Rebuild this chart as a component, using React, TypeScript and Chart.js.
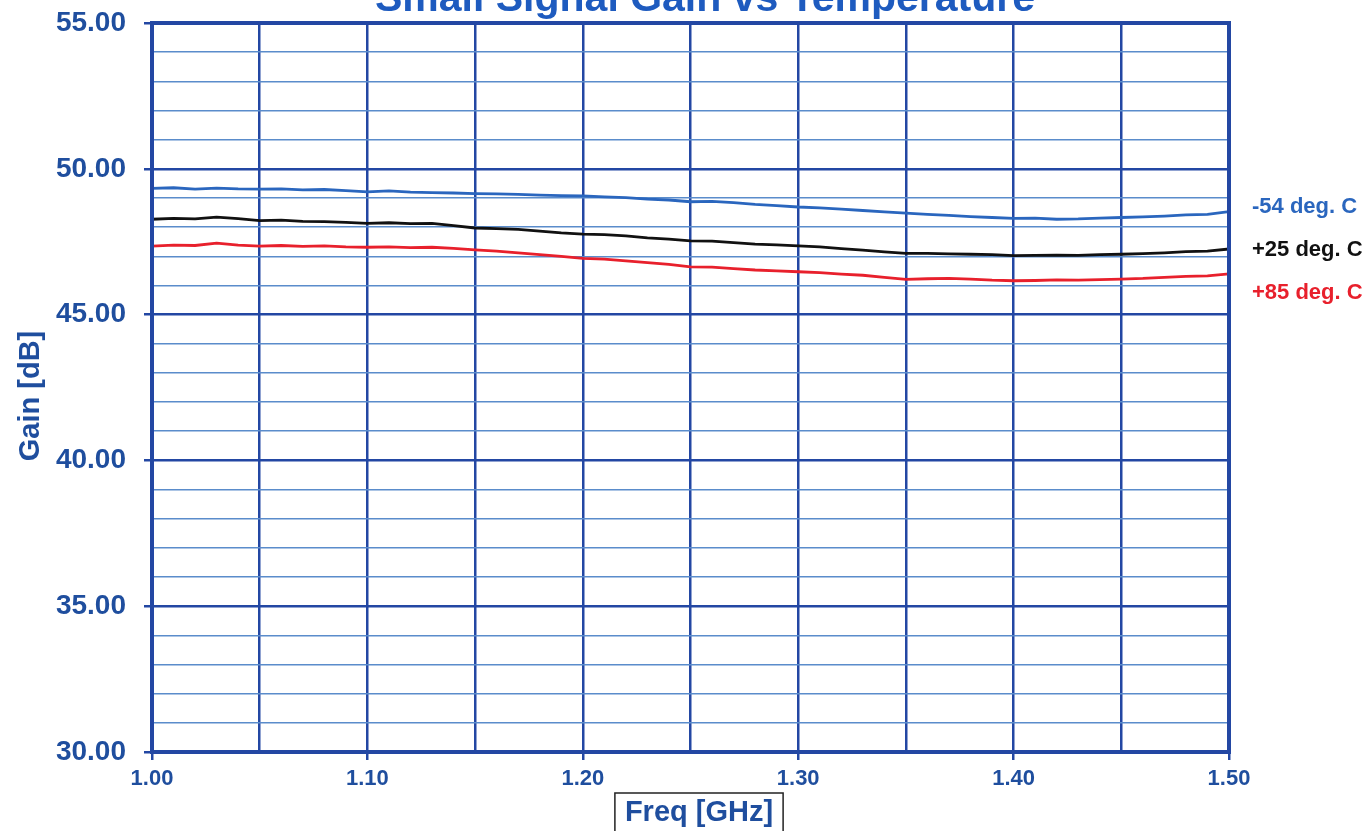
import React, { useEffect, useRef } from "react";
import { Chart, registerables } from "chart.js";

Chart.register(...registerables);

const FREQ_GHZ = [
  1.0, 1.01, 1.02, 1.03, 1.04, 1.05, 1.06, 1.07, 1.08, 1.09,
  1.1, 1.11, 1.12, 1.13, 1.14, 1.15, 1.16, 1.17, 1.18, 1.19,
  1.2, 1.21, 1.22, 1.23, 1.24, 1.25, 1.26, 1.27, 1.28, 1.29,
  1.3, 1.31, 1.32, 1.33, 1.34, 1.35, 1.36, 1.37, 1.38, 1.39,
  1.4, 1.41, 1.42, 1.43, 1.44, 1.45, 1.46, 1.47, 1.48, 1.49, 1.5,
];

const GAIN_M54 = [
  49.33, 49.35, 49.3, 49.34, 49.31, 49.3, 49.31, 49.28, 49.29, 49.25,
  49.21, 49.24, 49.2, 49.18, 49.17, 49.15, 49.14, 49.12, 49.1, 49.08,
  49.07, 49.04, 49.01, 48.96, 48.93, 48.87, 48.88, 48.84, 48.78, 48.74,
  48.69, 48.66, 48.62, 48.57, 48.52, 48.48, 48.44, 48.4, 48.36, 48.33,
  48.3, 48.31, 48.27, 48.28, 48.31, 48.33, 48.35, 48.38, 48.42, 48.44, 48.53,
];

const GAIN_P25 = [
  48.27, 48.3, 48.28, 48.34, 48.29, 48.22, 48.24, 48.2, 48.19, 48.16,
  48.13, 48.15, 48.12, 48.13, 48.05, 47.97, 47.95, 47.92, 47.86, 47.8,
  47.76, 47.74, 47.7, 47.63, 47.59, 47.53, 47.52, 47.47, 47.42, 47.39,
  47.36, 47.32, 47.26, 47.21, 47.15, 47.1, 47.1, 47.08, 47.07, 47.06,
  47.02, 47.03, 47.04, 47.03, 47.06, 47.07, 47.09, 47.12, 47.16, 47.18, 47.25,
];

const GAIN_P85 = [
  47.35, 47.38, 47.37, 47.45, 47.38, 47.35, 47.37, 47.34, 47.36, 47.32,
  47.31, 47.32, 47.3, 47.31, 47.27, 47.22, 47.18, 47.12, 47.06, 47.0,
  46.93, 46.9, 46.84, 46.78, 46.72, 46.64, 46.63, 46.58, 46.53, 46.5,
  46.47, 46.44, 46.39, 46.35, 46.28, 46.21, 46.23, 46.24, 46.22, 46.18,
  46.16, 46.17, 46.19, 46.18, 46.2, 46.22, 46.24, 46.28, 46.31, 46.33, 46.4,
];

const SERIES_LABELS = ["-54 deg. C", "+25 deg. C", "+85 deg. C"];
const SERIES_COLORS = ["#2A66BE", "#111111", "#E8202C"];
const TITLE = "Small Signal Gain vs Temperature";
const X_TITLE = "Freq [GHz]";
const Y_TITLE = "Gain [dB]";

const FONT = "'Liberation Sans', Arial, sans-serif";
const TEXT_BLUE = "#1F4E9E";
const GRID_DARK = "#2347A3";
const GRID_LIGHT = "#5A8CCB";

export default function App() {
  const ref = useRef<HTMLCanvasElement | null>(null);

  useEffect(() => {
    const canvas = ref.current;
    if (!canvas) return;

    const toPts = (arr: number[]) => FREQ_GHZ.map((f, i) => ({ x: f, y: arr[i] }));
    const seriesData = [GAIN_M54, GAIN_P25, GAIN_P85];

    const decor = {
      id: "decor",
      afterDraw(chart: any) {
        const { ctx, chartArea } = chart;
        ctx.save();
        ctx.strokeStyle = GRID_DARK;
        ctx.lineWidth = 4;
        ctx.strokeRect(chartArea.left, chartArea.top, chartArea.right - chartArea.left, chartArea.bottom - chartArea.top);

        ctx.fillStyle = "#1E5BBF";
        ctx.font = `bold 41px ${FONT}`;
        ctx.textAlign = "center";
        ctx.textBaseline = "alphabetic";
        ctx.fillText(TITLE, 705, 11);

        ctx.save();
        ctx.translate(31, 396);
        ctx.rotate(-Math.PI / 2);
        ctx.fillStyle = TEXT_BLUE;
        ctx.font = `bold 29px ${FONT}`;
        ctx.textAlign = "center";
        ctx.textBaseline = "middle";
        ctx.fillText(Y_TITLE, 0, 0);
        ctx.restore();

        ctx.font = `bold 29px ${FONT}`;
        ctx.textAlign = "center";
        ctx.textBaseline = "alphabetic";
        const w = ctx.measureText(X_TITLE).width;
        const cx = 699;
        ctx.fillStyle = "#ffffff";
        ctx.fillRect(cx - w / 2 - 10, 793, w + 20, 50);
        ctx.strokeStyle = "#222222";
        ctx.lineWidth = 1.5;
        ctx.strokeRect(cx - w / 2 - 10, 793, w + 20, 50);
        ctx.fillStyle = TEXT_BLUE;
        ctx.fillText(X_TITLE, cx, 821);

        ctx.font = `bold 22px ${FONT}`;
        ctx.textAlign = "left";
        const baselines = [213, 256, 299];
        SERIES_LABELS.forEach((lab, i) => {
          ctx.fillStyle = SERIES_COLORS[i];
          ctx.fillText(lab, 1252, baselines[i]);
        });
        ctx.restore();
      },
    };

    const isMajorY = (v: number) => Math.round(v) % 5 === 0;
    const isMajorX = (v: number) => Math.round(v * 100) % 10 === 0;

    const chart = new Chart(canvas, {
      type: "line",
      data: {
        datasets: seriesData.map((arr, i) => ({
          label: SERIES_LABELS[i],
          data: toPts(arr),
          borderColor: SERIES_COLORS[i],
          borderWidth: 2.8,
          pointRadius: 0,
          tension: 0,
          fill: false,
        })),
      },
      options: {
        animation: false,
        responsive: false,
        devicePixelRatio: 1,
        layout: { padding: { top: 23, right: 142, bottom: 0, left: 0 } },
        plugins: {
          legend: { display: false },
          title: { display: false },
          tooltip: { enabled: false },
        },
        scales: {
          x: {
            type: "linear",
            min: 1.0,
            max: 1.5,
            afterFit: (s: any) => {
              s.height = 79;
              s.paddingLeft = 0;
              s.paddingRight = 0;
            },
            ticks: {
              stepSize: 0.05,
              autoSkip: false,
              maxRotation: 0,
              padding: 6,
              color: TEXT_BLUE,
              font: { family: FONT, size: 22, weight: "bold" },
              callback: (v: any) => (isMajorX(Number(v)) ? Number(v).toFixed(2) : ""),
            },
            grid: {
              color: GRID_DARK,
              lineWidth: 2.5,
              tickLength: 8,
              tickColor: (c: any) => (c.tick && isMajorX(c.tick.value) ? GRID_DARK : "rgba(0,0,0,0)"),
              tickWidth: 2.5,
            },
            border: { display: true, color: GRID_DARK, width: 4 },
          },
          y: {
            type: "linear",
            min: 30,
            max: 55,
            afterFit: (s: any) => {
              s.width = 152;
              s.paddingTop = 0;
              s.paddingBottom = 0;
            },
            ticks: {
              stepSize: 1,
              autoSkip: false,
              padding: 18,
              color: TEXT_BLUE,
              font: { family: FONT, size: 28, weight: "bold" },
              callback: (v: any) => (isMajorY(Number(v)) ? Number(v).toFixed(2) : ""),
            },
            grid: {
              color: (c: any) => (c.tick && isMajorY(c.tick.value) ? GRID_DARK : GRID_LIGHT),
              lineWidth: (c: any) => (c.tick && isMajorY(c.tick.value) ? 2.5 : 1.5),
              tickLength: 8,
              tickColor: (c: any) => (c.tick && isMajorY(c.tick.value) ? GRID_DARK : "rgba(0,0,0,0)"),
              tickWidth: 2.5,
            },
            border: { display: true, color: GRID_DARK, width: 4 },
          },
        },
      },
      plugins: [decor],
    } as any);

    return () => chart.destroy();
  }, []);

  return (
    <div style={{ position: "fixed", left: 0, top: 0, width: 1371, height: 831, background: "#ffffff" }}>
      <canvas ref={ref} width={1371} height={831} style={{ display: "block", width: 1371, height: 831 }} />
    </div>
  );
}
